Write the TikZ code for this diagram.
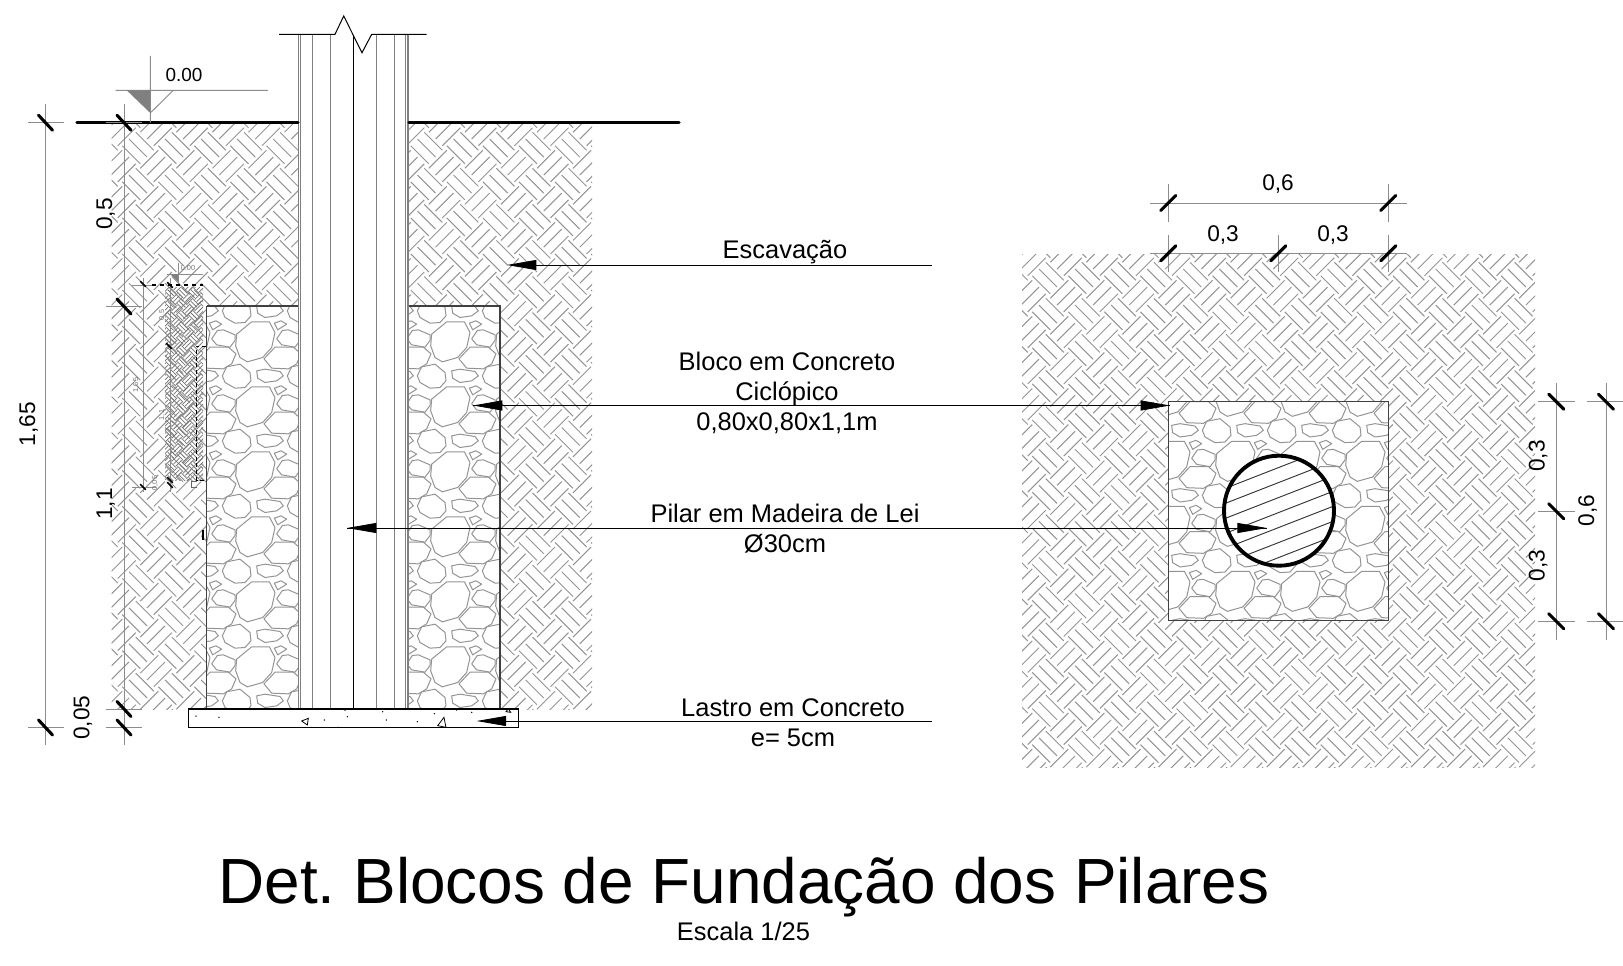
\documentclass[tikz,border=0pt]{standalone}
\usepackage{fontspec}
\setmainfont{Liberation Sans}
\frenchspacing
\usetikzlibrary{arrows.meta}
% #1-#4 region, #5 side, #6 #7 phase, #8 offset list, #9 style
\newcommand\weave[9]{%
  \begin{scope}
    \clip (#1,#2) rectangle (#3,#4);
    \pgfmathsetmacro\HH{#5*1.41421}
    \pgfmathsetmacro\LL{#5*0.70711}
    \pgfmathtruncatemacro\mx{floor((#1-#6)/\HH)-1}
    \pgfmathtruncatemacro\nx{floor((#3-#6)/\HH)+1}
    \pgfmathtruncatemacro\my{floor((#2-#7)/\HH)-1}
    \pgfmathtruncatemacro\ny{floor((#4-#7)/\HH)+1}
    \draw[#9] foreach \i in {\mx,...,\nx} { foreach \j in {\my,...,\ny} { foreach \t in {#8} {
      ({#6+\i*\HH+\t*#5*0.70711-\LL/2},{#7+\j*\HH+\t*#5*0.70711+\LL/2}) -- ++(\LL,-\LL)
      ({#6+(\i+0.5)*\HH+\t*#5*0.70711-\LL/2},{#7+(\j+0.5)*\HH-\t*#5*0.70711-\LL/2}) -- ++(\LL,\LL)
    } } };
  \end{scope}}
\newcommand\stonetile[2]{%
  \begin{scope}[x=0.25pt,y=-0.25pt,shift={(#1,#2)}]
    \draw[stone] (140,155)--(185,118)--(238,118)--(255,150)--(245,195)--(218,225)--(172,238)--(150,225)--(137,190)--cycle;
    \draw[stone] (65,169)--(82,144)--(100,142)--(135,157)--(135,174)--(120,194)--(80,187)--cycle;
    \draw[stone] (58,122)--(78,115)--(95,125)--(68,142)--cycle;
    \draw[stone] (5,70)--(30,65)--(75,72)--(85,85)--(65,100)--(30,105)--(8,92)--cycle;
    \draw[stone] (97,85)--(110,58)--(150,50)--(180,75)--(183,100)--(165,120)--(135,122)--(105,105)--cycle;
    \draw[stone] (27,34)--(60,-1)--(115,-1)--(138,19)--(125,49)--(100,64)--(50,62)--cycle;
  \end{scope}}
\tikzset{
  stone/.style={draw=black!42,line width=0.75pt,line join=round},
  soil/.style={draw=black!42,line width=0.75pt},
  minisoil/.style={draw=black!55,line width=0.55pt},
  dimline/.style={draw=black!45,line width=0.7pt},
  tick/.style={draw=black,line width=2.3pt,line cap=round},
  minitick/.style={draw=black,line width=1.3pt,line cap=round},
  outl/.style={draw=black!75,line width=0.85pt},
  pil/.style={draw=black!50,line width=0.75pt},
  leader/.style={draw=black,line width=0.6pt},
  arr/.style={-{Triangle[length=22pt,width=7.5pt]}},
  lbl/.style={font=\fontsize{19.1}{23}\selectfont,anchor=base,inner sep=0pt},
  dimt/.style={font=\fontsize{17}{20}\selectfont,anchor=base,inner sep=0pt},
  vdimt/.style={dimt,rotate=90},
  minit/.style={font=\fontsize{5.5}{6}\selectfont,text=black!55,anchor=base,inner sep=0pt,rotate=90},
}
\begin{document}
\begin{tikzpicture}[x=0.75pt,y=-0.75pt]
\useasboundingbox (0,0) rectangle (1623,966);
\fill[white] (0,0) rectangle (1623,966);

% soil
\weave{111.7}{123}{592}{709}{25.5}{120}{130}{-0.375,0,0.375}{soil}
\weave{1022}{255}{1535}{767}{25.5}{1030}{260}{-0.375,0,0.375}{soil}

% left block
\fill[white] (206.7,306) rectangle (500,709);
\begin{scope}
  \clip (206.7,306) rectangle (299,709) (408,306) rectangle (500,709);
  \foreach \i in {-1,...,4} \foreach \j in {0,...,6} {\stonetile{190*3+\i*195}{282.5*3+\j*195}}
\end{scope}
\draw[outl] (206.7,306) -- (299,306) (408,306) -- (500,306) -- (500,709) (206.7,709) -- (206.7,306);

% pillar
\fill[white] (298.5,34.3) rectangle (408,709);
\draw[pil,line width=1.1pt] (298.5,34.3) -- (298.5,709) (408,34.3) -- (408,709);
\draw[pil] (300.5,34.3) -- (300.5,709) (312.7,34.3) -- (312.7,709) (330,34.3) -- (330,709)
  (376.7,34.3) -- (376.7,709) (394,34.3) -- (394,709) (405.7,34.3) -- (405.7,709);
\draw[draw=black,line width=0.9pt] (353.7,36) -- (353.7,709);
\draw[draw=black,line width=0.75pt] (279,34.3) -- (335,34.3) -- (343.7,16) -- (362,52.7) -- (371.7,34.3) -- (426.7,34.3);

% lastro
\draw[draw=black,line width=1pt] (188.7,709) rectangle (518.7,727.7);
\foreach \z/\w in {408/228,477/232,793/240,862/230,968/215,979/240,1072/245,1123/221,1190/210,1235/217,835/262,855/210}
  \fill[black] (60+\z/3,640+\w/3) circle (0.75);
\begin{scope}[x=0.25pt,y=-0.25pt,shift={(180,1920)}]
  \draw[draw=black,line width=0.6pt] (725,243)--(745,235)--(742,255)--cycle;
  \draw[draw=black,line width=0.6pt] (1133,257)--(1152,232)--(1158,262)--cycle;
  \draw[draw=black,line width=0.6pt] (1338,215)--(1345,206)--(1352,217)--cycle;
\end{scope}

% ground
\draw[draw=black,line width=2.6pt,line cap=round] (77,122.7) -- (298,122.7) (409,122.7) -- (679,122.7);

% level mark
\draw[dimline] (115.7,90.3) -- (268,90.3) (150.3,56) -- (150.3,122.7) (150.3,113) -- (173.3,90.3);
\fill[black!50] (126.7,90.3) -- (150.3,90.3) -- (150.3,113) -- cycle;
\node[dimt,font=\fontsize{14.2}{17}\selectfont] (lev) at (184,81.7) {0.00};

% left dims
\draw[dimline] (45.5,104) -- (45.5,745) (124,104) -- (124,745)
  (28,122.7) -- (64,122.7) (28,727.5) -- (64,727.5)
  (105.7,122.7) -- (142,122.7) (105.7,306.5) -- (142,306.5) (105.7,709) -- (142,709) (105.7,727.5) -- (142,727.5);
\foreach \p in {(45.5,122.7),(45.5,727.5),(124,122.7),(124,306.5),(124,709),(124,727.5)}
  \draw[tick] \p ++(-7,-7.5) -- ++(14,15);
\node[vdimt] (d165) at (35.2,424) {1,65};
\node[vdimt] (d05) at (112,214) {0,5};
\node[vdimt] (d11) at (112,504) {1,1};
\node[vdimt] (d005) at (89.3,717.7) {0,05};

% miniature copy
\weave{165}{287}{203}{480}{8.2}{165}{287}{-0.375,0,0.375}{minisoil}
\draw[draw=black!45,line width=0.4pt] (143,278) -- (143,492) (170,278) -- (170,492) (132,285) -- (156,285) (132,487) -- (156,487) (167,274) -- (203,274) (178,263) -- (178,285);
\fill[black!50] (170,274) -- (178,274) -- (178,282) -- cycle;
\draw[draw=black,line width=1.2pt,dashed] (152,285) -- (203,285);
\foreach \p in {(143,284),(170,285),(169,346),(170,480),(170,485),(143,487)}
  \draw[minitick] \p ++(-2.5,-2.5) -- ++(5,5);
\node[minit] (m165) at (138,385) {1,65};
\node[minit] (m05) at (164,315) {0,5};
\node[minit] (m11) at (164,415) {1,1};
\node[minit] (m005) at (157,483) {0,05};
\node[minit,rotate=-90] (m000) at (188,271) {0.00};
\draw[draw=black,line width=0.5pt,densely dashed] (206,346) -- (196.7,346) -- (196.7,480) -- (206,480);
\draw[draw=black!60,line width=0.5pt] (197,481) -- (191,481) -- (191,487) -- (197,487);
\draw[draw=black,line width=1.2pt] (203,530) -- (203,540);

% right block
\fill[white] (1168.3,401.7) rectangle (1388.3,620.7);
\begin{scope}
  \clip (1168.3,401.7) rectangle (1388.3,620.7);
  \foreach \i in {-3,...,1} \foreach \j in {-1,...,3} {\stonetile{1300*3+\i*195}{402*3+\j*195}}
\end{scope}
\draw[outl] (1168.3,401.7) rectangle (1388.3,620.7);

% pile section
\coordinate (cc) at (1279,510.7);
\fill[white] (cc) circle (55);
\begin{scope}
  \clip (cc) circle (55);
  \foreach \k in {-3,...,3}
    \draw[draw=black!80,line width=0.7pt] (1209,510.7+\k*15+1.7+27.3) -- (1349,510.7+\k*15+1.7-27.3);
\end{scope}
\draw[draw=black,line width=2.9pt] (cc) circle (55);

% right dims
\draw[dimline] (1150,203) -- (1406.7,203) (1150,253.3) -- (1406.7,253.3)
  (1168.3,184) -- (1168.3,221.7) (1388.3,184) -- (1388.3,221.7)
  (1168.3,235) -- (1168.3,271.7) (1278.3,235) -- (1278.3,271.7) (1388.3,235) -- (1388.3,271.7);
\foreach \p in {(1168.3,203),(1388.3,203),(1168.3,253.3),(1278.3,253.3),(1388.3,253.3)}
  \draw[tick] \p ++(-7.5,7.5) -- ++(15,-15);
\node[dimt] (t06) at (1278,190.7) {0,6};
\node[dimt] (t03a) at (1223,241.7) {0,3};
\node[dimt] (t03b) at (1333,241.7) {0,3};

\draw[dimline] (1556.3,383) -- (1556.3,640) (1606,383) -- (1606,640)
  (1538,401.7) -- (1575,401.7) (1538,511.3) -- (1575,511.3) (1538,621.3) -- (1575,621.3)
  (1587,401.7) -- (1623,401.7) (1587,621.3) -- (1623,621.3);
\foreach \p in {(1556.3,401.7),(1556.3,511.3),(1556.3,621.3),(1606,401.7),(1606,621.3)}
  \draw[tick] \p ++(-7.5,-7.5) -- ++(15,15);
\node[vdimt] (r03a) at (1544.5,456) {0,3};
\node[vdimt] (r03b) at (1544.5,565.7) {0,3};
\node[vdimt] (r06) at (1594,510.7) {0,6};

% labels
\node[lbl] (esc) at (785,258) {Escavação};
\node[lbl] (bl1) at (787,370.5) {Bloco em Concreto};
\node[lbl] (bl2) at (787,400.5) {Ciclópico};
\node[lbl] (bl3) at (787,430) {0,80x0,80x1,1m};
\node[lbl] (pi1) at (785,522.6) {Pilar em Madeira de Lei};
\node[lbl] (pi2) at (785,552.7) {Ø30cm};
\node[lbl] (la1) at (793,716) {Lastro em Concreto};
\node[lbl] (la2) at (793,746) {e= 5cm};
\node[anchor=base,inner sep=0pt,font=\fontsize{47.9}{56}\selectfont] (title) at (744,903.6) {Det. Blocos de Fundação dos Pilares};
\node[lbl] (scale) at (743.5,940) {Escala 1/25};

% leaders
\coordinate (e1) at (931.6,265); \coordinate (e2) at (507,265);
\draw[leader,arr] (e1) -- (e2);
\coordinate (b1) at (473,405.5); \coordinate (b2) at (1170,405.5);
\draw[leader,arr] (b1) -- (b2);
\draw[leader,arr] (b2) -- (b1);
\coordinate (p1) at (347,528); \coordinate (p2) at (1266.7,528);
\draw[leader,arr] (p1) -- (p2);
\draw[leader,arr] (p2) -- (p1);
\coordinate (l1) at (931.6,721); \coordinate (l2) at (476.7,721);
\draw[leader,arr] (l1) -- (l2);
\end{tikzpicture}
\end{document}
